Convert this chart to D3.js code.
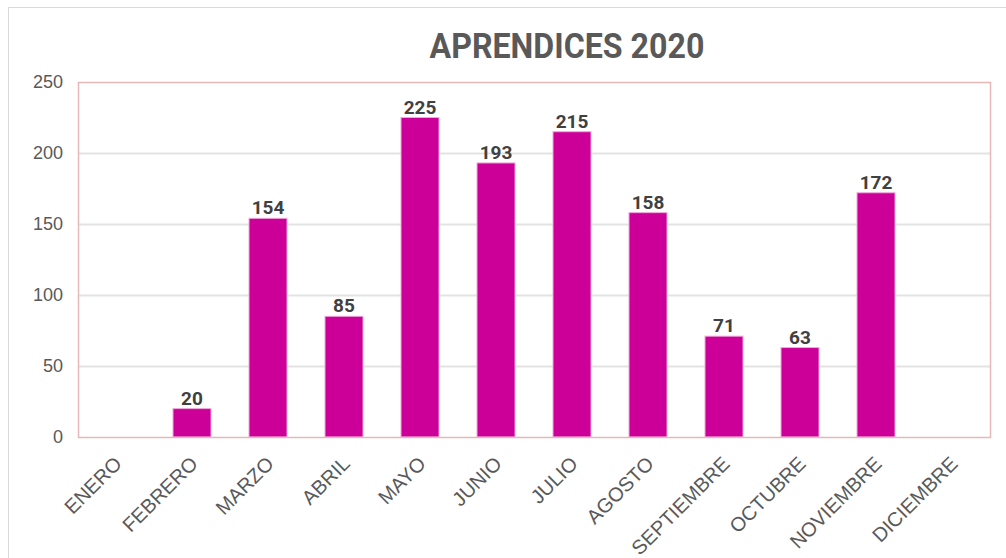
<!DOCTYPE html>
<html>
<head>
<meta charset="utf-8">
<script src="https://cdn.jsdelivr.net/npm/d3@7/dist/d3.min.js"></script>
<style>
  html, body { margin: 0; padding: 0; background: #fff; }
  svg { display: block; }
  .lbl { font-family: "Liberation Sans", Arial, sans-serif; }
  .ttl { font-family: Roboto, "Liberation Sans", Arial, sans-serif; }
</style>
</head>
<body>
<svg id="chart" width="1006" height="558"></svg>
<script>
// Aprendices por mes, 2020 (sin registros en enero y diciembre)
const months = ["ENERO", "FEBRERO", "MARZO", "ABRIL", "MAYO", "JUNIO", "JULIO",
                "AGOSTO", "SEPTIEMBRE", "OCTUBRE", "NOVIEMBRE", "DICIEMBRE"];
const apprentices = [null, 20, 154, 85, 225, 193, 215, 158, 71, 63, 172, null];
const yTicks = [0, 50, 100, 150, 200, 250];
const chartTitle = "APRENDICES 2020";

const svg = d3.select("#chart");
const W = 1006, H = 558;
const plot = { left: 78, right: 990, top: 82, bottom: 437 };

// outer chart frame
svg.append("rect")
  .attr("x", 8.5).attr("y", 7.5)
  .attr("width", W + 10).attr("height", H + 10)
  .attr("fill", "#fff").attr("stroke", "#d9d9d9").attr("stroke-width", 1);

const x = d3.scaleBand().domain(months).range([plot.left, plot.right]).paddingInner(0.5).paddingOuter(0.25);
const y = d3.scaleLinear().domain([0, 250]).range([plot.bottom, plot.top]);

// horizontal gridlines
svg.append("g")
  .selectAll("line")
  .data(yTicks.filter(t => t > 0 && t < 250))
  .join("line")
  .attr("x1", plot.left).attr("x2", plot.right)
  .attr("y1", d => Math.round(y(d)) + 0.5).attr("y2", d => Math.round(y(d)) + 0.5)
  .attr("stroke", "#e3e3e3").attr("stroke-width", 2);

// y-axis labels
const yAxis = d3.axisLeft(y).tickValues(yTicks).tickSize(0).tickPadding(15);
const gy = svg.append("g").attr("transform", `translate(${plot.left},0)`).call(yAxis);
gy.select(".domain").remove();
gy.selectAll("text")
  .attr("class", "lbl")
  .attr("font-size", 18)
  .attr("fill", "#595959");

// bars
const valid = months.map((m, i) => ({ m, v: apprentices[i] })).filter(d => d.v !== null);
svg.append("g")
  .selectAll("rect")
  .data(valid)
  .join("rect")
  .attr("x", d => x(d.m))
  .attr("y", d => y(d.v))
  .attr("width", x.bandwidth())
  .attr("height", d => y(0) - y(d.v))
  .attr("fill", "#cc0099")
  .attr("stroke", "#f0a8dc").attr("stroke-width", 1);

// value labels
svg.append("g")
  .selectAll("text")
  .data(valid)
  .join("text")
  .attr("class", "ttl")
  .attr("x", d => x(d.m) + x.bandwidth() / 2)
  .attr("y", d => y(d.v) - 4)
  .attr("text-anchor", "middle")
  .attr("font-size", 19)
  .attr("font-weight", "bold")
  .attr("fill", "#404040")
  .text(d => d.v);

// plot border
svg.append("rect")
  .attr("x", plot.left + 0.5).attr("y", plot.top + 0.5)
  .attr("width", plot.right - plot.left).attr("height", plot.bottom - plot.top)
  .attr("fill", "none").attr("stroke", "#e6b8b8").attr("stroke-width", 1.5);

// x-axis labels, rotated
const xAxis = d3.axisBottom(x).tickSize(0).tickPadding(0);
const gx = svg.append("g").attr("transform", `translate(0,${plot.bottom})`).call(xAxis);
gx.select(".domain").remove();
gx.selectAll("text")
  .attr("class", "lbl")
  .attr("font-size", 20)
  .attr("fill", "#595959")
  .attr("text-anchor", "end")
  .attr("dy", null)
  .attr("transform", "translate(7,28) rotate(-45)");

// title, slightly condensed
svg.append("g")
  .attr("transform", "translate(567,58) scale(0.92,1)")
  .append("text")
  .attr("class", "ttl")
  .attr("text-anchor", "middle")
  .attr("font-size", 35)
  .attr("font-weight", "bold")
  .attr("fill", "#595959")
  .text(chartTitle);
</script>
</body>
</html>
